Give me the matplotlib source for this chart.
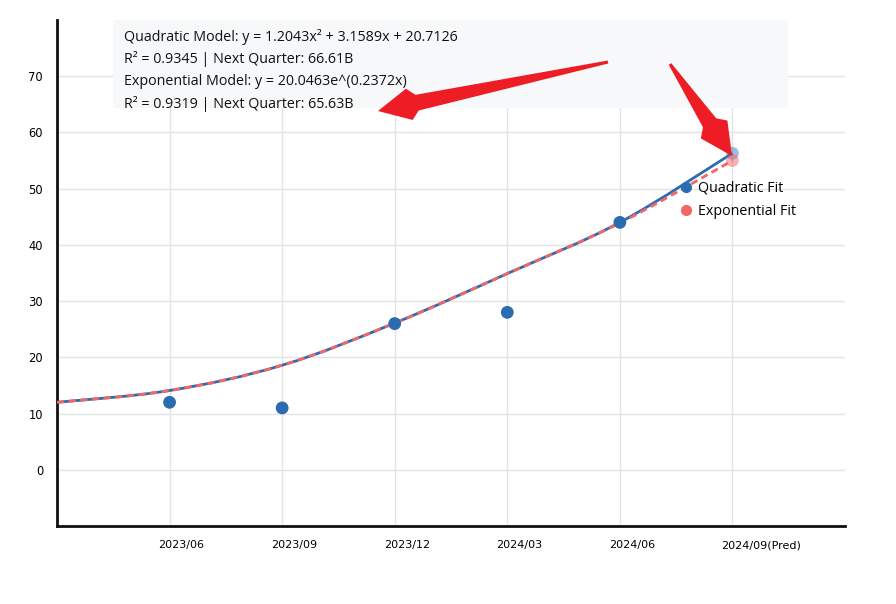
import numpy as np
import matplotlib
matplotlib.use("Agg")
import matplotlib.pyplot as plt
from matplotlib.path import Path
from matplotlib.patches import PathPatch, FancyBboxPatch, Polygon
from matplotlib.lines import Line2D

# ---------------- data ----------------
categories = ["2023/06", "2023/09", "2023/12", "2024/03", "2024/06", "2024/09(Pred)"]
actual_values = [12.0, 11.0, 26.0, 28.0, 44.0]
fit_positions = [-1, 0, 1, 2, 3, 4, 5]
quad_fit = [12.0, 14.1, 18.6, 26.1, 34.9, 44.0, 56.3]
exp_fit = [12.0, 14.1, 18.6, 26.1, 34.9, 43.9, 55.0]
quad_pred = 56.3
exp_pred = 55.0
y_ticks = [0, 10, 20, 30, 40, 50, 60, 70]
info_lines = [
    "Quadratic Model: y = 1.2043x\u00b2 + 3.1589x + 20.7126",
    "R\u00b2 = 0.9345 | Next Quarter: 66.61B",
    "Exponential Model: y = 20.0463e^(0.2372x)",
    "R\u00b2 = 0.9319 | Next Quarter: 65.63B",
]

BLUE = "#2b6cb0"
RED = "#f56565"
ARROW = "#ee1c25"

W, H = 896, 604
fig = plt.figure(figsize=(W / 100, H / 100), dpi=100)
ax = fig.add_axes([57 / W, 1 - 526 / H, 788 / W, 506 / H])
ax.set_xlim(-1, 6)
ax.set_ylim(-10, 80)

ax.set_xticks(range(len(categories)))
ax.set_xticklabels([])
for i, lab in enumerate(categories):
    ax.annotate(lab, xy=(i, 0), xycoords=("data", "axes fraction"),
                xytext=(-11, -19), textcoords="offset pixels",
                ha="left", va="center", fontsize=8, family="DejaVu Sans",
                annotation_clip=False)
ax.set_yticks(y_ticks)
ax.set_yticklabels([str(v) for v in y_ticks], fontsize=8.3, family="DejaVu Sans")
ax.tick_params(axis="both", length=0)
ax.tick_params(axis="y", pad=10)
ax.grid(True, color="#e3e3e3", lw=1)
ax.set_axisbelow(True)
for s in ["top", "right"]:
    ax.spines[s].set_visible(False)
for s in ["left", "bottom"]:
    ax.spines[s].set_linewidth(2)
    ax.spines[s].set_color("#111111")


def smooth_path(xs, ys, t=0.35):
    xs = np.asarray(xs, float)
    ys = np.asarray(ys, float)
    verts = [(xs[0], ys[0])]
    codes = [Path.MOVETO]
    n = len(xs)
    for i in range(n - 1):
        p0 = np.array([xs[max(i - 1, 0)], ys[max(i - 1, 0)]])
        p1 = np.array([xs[i], ys[i]])
        p2 = np.array([xs[i + 1], ys[i + 1]])
        p3 = np.array([xs[min(i + 2, n - 1)], ys[min(i + 2, n - 1)]])
        c1 = p1 + (p2 - p0) * t / 2
        c2 = p2 - (p3 - p1) * t / 2
        verts += [tuple(c1), tuple(c2), tuple(p2)]
        codes += [Path.CURVE4] * 3
    return Path(verts, codes)


ax.add_patch(PathPatch(smooth_path(fit_positions, quad_fit), fill=False,
                       edgecolor=BLUE, lw=2, zorder=3, capstyle="butt"))
ax.add_patch(PathPatch(smooth_path(fit_positions, exp_fit), fill=False,
                       edgecolor=RED, lw=2, ls=(0, (2.6, 1.6)), zorder=4))

ax.scatter(range(len(actual_values)), actual_values, s=85, color=BLUE,
           zorder=5, edgecolors="none")
ax.scatter([5], [quad_pred], s=85, color=BLUE, alpha=0.45, zorder=5, edgecolors="none")
ax.scatter([5], [exp_pred], s=85, color=RED, alpha=0.5, zorder=5, edgecolors="none")

handles = [
    Line2D([], [], ls="none", marker="o", ms=7, color=BLUE),
    Line2D([], [], ls="none", marker="o", ms=7, color=RED),
]
leg = ax.legend(handles, ["Quadratic Fit", "Exponential Fit"], loc="upper left",
                bbox_to_anchor=(0.785, 0.694), frameon=False, handlelength=0.6,
                handletextpad=0.55, labelspacing=0.62,
                prop={"family": "Open Sans", "size": 10.3}, borderaxespad=0)

# info box
box = FancyBboxPatch((113 / W, 1 - 108 / H), (788 - 113) / W, 88 / H,
                     boxstyle="round,pad=0,rounding_size=0.006",
                     transform=fig.transFigure, facecolor="#f7f8fa",
                     edgecolor="none", zorder=6)
fig.patches.append(box)
for i, line in enumerate(info_lines):
    fig.text(124 / W, 1 - (37 + i * 22.4) / H, line, fontsize=10.3,
             family="Open Sans", va="center", ha="left", zorder=7, color="#111111")


def arrow_poly(tail, tip, head_len=32, head_half=16, neck=40, neck_half=8, tail_half=1.5):
    tail = np.array(tail, float)
    tip = np.array(tip, float)
    u = (tip - tail) / np.linalg.norm(tip - tail)
    nrm = np.array([-u[1], u[0]])
    base = tip - u * head_len
    nk = tip - u * neck
    pts = [tail + nrm * tail_half, nk + nrm * neck_half, base + nrm * head_half, tip,
           base - nrm * head_half, nk - nrm * neck_half, tail - nrm * tail_half]
    return [(p[0] / W, 1 - p[1] / H) for p in pts]


for tail, tip in [((608, 62), (378, 111)), ((670, 64), (732, 156))]:
    fig.patches.append(Polygon(arrow_poly(tail, tip), closed=True,
                               transform=fig.transFigure, facecolor=ARROW,
                               edgecolor="none", zorder=10))

fig.savefig("out.png", dpi=100)
